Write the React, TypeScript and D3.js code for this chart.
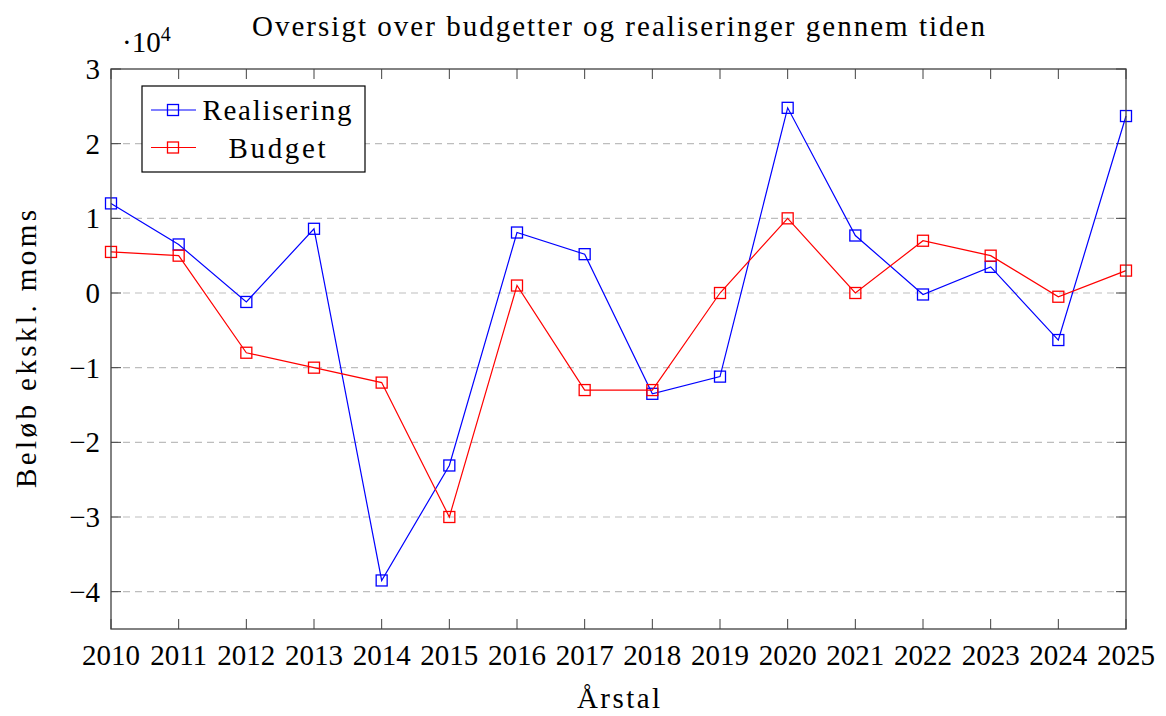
import React from "react";
import * as d3 from "d3";

const years = [2010, 2011, 2012, 2013, 2014, 2015, 2016, 2017, 2018, 2019, 2020, 2021, 2022, 2023, 2024, 2025];
// values in units of 10^4
const realisering = [1.2, 0.65, -0.12, 0.86, -3.85, -2.31, 0.81, 0.52, -1.35, -1.12, 2.48, 0.77, -0.02, 0.35, -0.63, 2.37];
const budget = [0.55, 0.5, -0.8, -1.0, -1.2, -3.0, 0.1, -1.3, -1.3, 0.0, 1.0, 0.0, 0.7, 0.5, -0.05, 0.3];
const yTicks = [-4, -3, -2, -1, 0, 1, 2, 3];

const W = 1166;
const H = 716;
const m = { left: 111, right: 1126, top: 69, bottom: 629 };
const FONT = "'Liberation Serif', 'DejaVu Serif', serif";

export default function App() {
  const x = d3.scaleLinear().domain([2010, 2025]).range([m.left, m.right]);
  const y = d3.scaleLinear().domain([-4.5, 3]).range([m.bottom, m.top]);

  const line = d3
    .line<number>()
    .x((_, i) => x(years[i]))
    .y((d) => y(d));

  const series = [
    { name: "Realisering", values: realisering, color: "#0000ff", len: 149 },
    { name: "Budget", values: budget, color: "#ff0000", len: 97 },
  ];

  const sq = 5.5;
  const tickLen = 10;
  const axisColor = "#404040";

  return (
    <svg width={W} height={H} style={{ position: "absolute", left: 0, top: 0 }} fontFamily={FONT}>
      <rect width={W} height={H} fill="white" />

      {/* grid */}
      {yTicks
        .filter((t) => t < 3)
        .map((t) => (
          <line key={"g" + t} x1={m.left} x2={m.right} y1={y(t)} y2={y(t)} stroke="#bdbdbd" strokeWidth={1.2} strokeDasharray="7 5" />
        ))}

      {/* ticks */}
      {years.map((yr) => (
        <g key={"xt" + yr} stroke={axisColor} strokeWidth={1}>
          <line x1={x(yr)} x2={x(yr)} y1={m.bottom} y2={m.bottom - tickLen} />
          <line x1={x(yr)} x2={x(yr)} y1={m.top} y2={m.top + tickLen} />
        </g>
      ))}
      {yTicks.map((t) => (
        <g key={"yt" + t} stroke={axisColor} strokeWidth={1}>
          <line x1={m.left} x2={m.left + tickLen} y1={y(t)} y2={y(t)} />
          <line x1={m.right} x2={m.right - tickLen} y1={y(t)} y2={y(t)} />
        </g>
      ))}

      {/* series */}
      {series.map((s) => (
        <g key={s.name}>
          <path d={line(s.values) || ""} fill="none" stroke={s.color} strokeWidth={1.2} />
          {s.values.map((v, i) => (
            <rect key={i} x={x(years[i]) - sq} y={y(v) - sq} width={sq * 2} height={sq * 2} fill="none" stroke={s.color} strokeWidth={1.3} />
          ))}
        </g>
      ))}

      {/* frame */}
      <rect x={m.left} y={m.top} width={m.right - m.left} height={m.bottom - m.top} fill="none" stroke={axisColor} strokeWidth={1.3} />

      {/* tick labels */}
      {years.map((yr) => (
        <text key={"xl" + yr} x={x(yr)} y={m.bottom + 36} textAnchor="middle" fontSize={29} fill="#000">
          {yr}
        </text>
      ))}
      {yTicks.map((t) => (
        <text key={"yl" + t} x={m.left - 11} y={y(t) + 10} textAnchor="end" fontSize={29} fill="#000">
          {t < 0 ? "\u2212" + Math.abs(t) : t}
        </text>
      ))}
      <text x={122} y={52} fontSize={29} fill="#000">
        {"\u00b710"}
        <tspan dy={-11} fontSize={20}>4</tspan>
      </text>

      {/* title & labels */}
      <text x={(m.left + m.right) / 2} y={36} textAnchor="middle" fontSize={29} fill="#000" textLength={733} lengthAdjust="spacing">
        Oversigt over budgetter og realiseringer gennem tiden
      </text>
      <text x={(m.left + m.right) / 2} y={708} textAnchor="middle" fontSize={29} fill="#000" textLength={83} lengthAdjust="spacing">
        Årstal
      </text>
      <text transform={`translate(36, ${(m.top + m.bottom) / 2}) rotate(-90)`} textAnchor="middle" fontSize={29} fill="#000" textLength={278} lengthAdjust="spacing">
        Beløb ekskl. moms
      </text>

      {/* legend */}
      <g>
        <rect x={142} y={86} width={223} height={86} fill="white" stroke="#000" strokeWidth={1.2} />
        {series.map((s, i) => {
          const ly = 110 + i * 37.5;
          return (
            <g key={"lg" + s.name}>
              <line x1={151} x2={196} y1={ly} y2={ly} stroke={s.color} strokeWidth={1.2} />
              <rect x={173 - sq} y={ly - sq} width={sq * 2} height={sq * 2} fill="none" stroke={s.color} strokeWidth={1.3} />
              <text x={277} y={ly + 10} textAnchor="middle" fontSize={29} fill="#000" textLength={s.len} lengthAdjust="spacing">
                {s.name}
              </text>
            </g>
          );
        })}
      </g>
    </svg>
  );
}
